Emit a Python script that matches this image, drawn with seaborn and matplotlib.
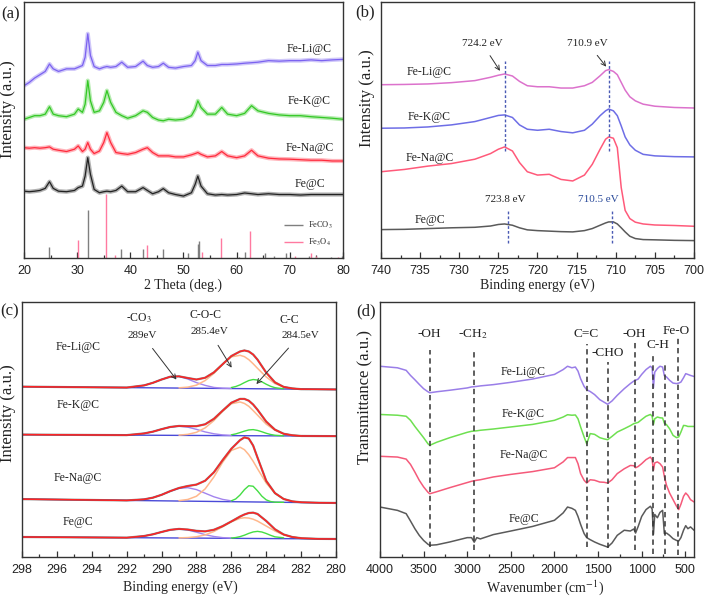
import matplotlib
matplotlib.use('Agg')
import matplotlib.pyplot as plt
import seaborn as sns

sns.set_theme(style='white')
plt.rcParams['font.family'] = ['Liberation Serif', 'DejaVu Serif']
plt.rcParams['mathtext.fontset'] = 'stix'
plt.rcParams['axes.edgecolor'] = '#333333'
plt.rcParams['axes.linewidth'] = 1.0

SAMPLES = ['Fe-Li@C', 'Fe-K@C', 'Fe-Na@C', 'Fe@C']

# ---------------- (a) XRD ----------------
XA = [20, 21, 22, 23, 24, 24.8, 25.5, 26.5, 28, 29.5, 30.2, 31.0, 31.5, 32.0, 32.5, 33.2, 34.2, 35.0,
      35.6, 36.3, 37.3, 38.4, 39.5, 41.0, 42.4, 43.2, 44.2, 45.3, 46.2, 47.2, 48.5, 50.0, 51.5, 52.2,
      52.7, 53.3, 54.5, 56.0, 57.2, 58.3, 60.0, 61.5, 62.8, 64.0, 66.0, 68.0, 70.0, 72.0, 74.0, 76.0,
      78.0, 80.0]
XRD_LI = [67.3, 68.6, 70.3, 71.6, 72.9, 75.8, 73.9, 72.9, 73.9, 73.9, 74.5, 75.2, 78.4, 87.6, 79.1, 74.8,
          73.9, 74.5, 74.8, 74.5, 74.8, 76.5, 74.5, 74.8, 76.9, 75.2, 74.5, 74.8, 76.1, 74.5, 74.2, 74.8,
          75.2, 77.1, 80.4, 77.1, 75.2, 75.2, 75.6, 75.6, 75.8, 76.1, 76.3, 76.5, 77.1, 76.9, 77.1, 77.1,
          77.4, 77.1, 77.4, 77.6]
XRD_K = [54.2, 54.9, 55.6, 55.6, 56.2, 59.1, 56.2, 55.6, 55.2, 56.2, 58.2, 56.9, 60.1, 69.3, 61.4, 56.9,
         57.5, 60.8, 65.4, 60.8, 56.9, 55.6, 54.6, 55.6, 57.5, 56.9, 54.9, 53.9, 53.6, 54.2, 53.9, 54.2,
         55.6, 58.2, 61.4, 58.8, 56.2, 56.2, 58.8, 56.2, 55.6, 56.5, 59.5, 57.5, 56.5, 55.9, 55.6, 55.6,
         55.2, 54.9, 54.6, 54.2]
XRD_NA = [43.1, 42.9, 43.1, 42.9, 43.1, 43.4, 42.5, 42.1, 41.6, 42.5, 43.8, 41.6, 42.5, 45.1, 42.5, 40.8,
          41.8, 45.1, 49.0, 45.1, 41.2, 40.8, 40.5, 41.2, 42.5, 43.1, 41.2, 39.9, 39.9, 39.9, 39.5, 39.5,
          40.3, 40.8, 41.2, 40.5, 39.5, 39.9, 41.6, 39.9, 39.2, 39.9, 42.1, 39.9, 39.0, 38.7, 38.6, 38.4,
          38.2, 38.2, 37.9, 37.9]
XRD_FE = [26.1, 25.9, 26.1, 26.4, 27.2, 29.8, 27.2, 26.1, 25.9, 26.4, 27.5, 28.1, 32.0, 39.2, 32.7, 26.8,
          25.5, 25.9, 26.1, 25.9, 26.4, 28.1, 25.9, 25.9, 27.5, 26.4, 25.1, 25.9, 27.1, 25.5, 24.8, 24.2,
          25.5, 28.8, 32.0, 28.1, 25.1, 24.6, 24.8, 24.6, 24.8, 25.4, 25.1, 24.8, 25.1, 24.8, 24.8, 24.6,
          24.8, 24.8, 24.8, 24.8]
FECO3_POS = [24.8, 32.0, 38.3, 42.3, 46.2, 50.9, 52.7, 52.9, 60.4, 61.5, 65.4, 67.0, 69.3, 73.6, 77.8, 79.9]
FECO3_H = [4.3, 18.6, 3.5, 3.5, 3.5, 2.0, 5.5, 6.5, 0.5, 2.4, 2.0, 0.9, 2.0, 0.7, 0.4, 0.8]
FE3O4_POS = [30.1, 35.5, 37.1, 43.1, 53.4, 57.0, 62.6, 71.0, 74.0, 75.0, 79.0]
FE3O4_H = [7.2, 25.0, 1.3, 5.2, 2.4, 7.8, 10.7, 0.6, 2.0, 0.7, 0.4]
XRD_LABEL_Y = [81.7, 61.4, 43.1, 28.8]

# ---------------- (b) Fe 2p XPS ----------------
XB = [740, 737, 734, 731, 728, 726, 725, 724.2, 723.2, 722.3, 721.3, 720, 718.5, 717, 715.5, 714, 713,
      712, 711.3, 710.9, 710.3, 709.8, 709.3, 708.8, 708.2, 707.5, 706.5, 705, 702.5, 700]
FE2P_LI = [67.7, 67.8, 68.0, 68.5, 69.3, 70.6, 71.4, 71.9, 71.1, 69.0, 67.3, 66.9, 66.9, 66.4, 66.4, 67.3,
           68.6, 71.2, 73.2, 73.6, 72.9, 71.6, 68.6, 65.6, 63.0, 61.4, 60.1, 59.3, 58.8, 58.6]
FE2P_K = [50.7, 50.8, 51.2, 52.0, 53.3, 54.9, 55.7, 55.9, 54.9, 52.0, 50.3, 49.9, 50.3, 49.4, 48.9, 49.9,
          52.3, 55.6, 57.5, 58.2, 57.5, 55.6, 51.6, 47.3, 44.2, 42.1, 40.5, 39.9, 39.6, 39.5]
FE2P_NA = [33.7, 34.6, 35.9, 36.9, 38.6, 40.8, 42.5, 43.4, 41.8, 37.3, 33.7, 32.4, 32.7, 30.7, 30.1, 32.4,
           36.6, 42.5, 46.4, 47.3, 46.8, 43.1, 27.5, 18.6, 15.4, 14.0, 13.3, 12.9, 12.7, 12.4]
FE2P_FE = [11.1, 11.2, 11.5, 11.8, 12.0, 12.5, 13.1, 13.3, 12.8, 11.8, 11.0, 10.7, 10.5, 10.3, 10.2, 10.7,
           11.5, 12.8, 13.7, 14.1, 14.1, 13.3, 11.8, 10.2, 8.5, 7.6, 7.2, 7.1, 6.9, 6.8]
FE2P_LABEL_Y = [72.5, 54.9, 39.2, 15.0]

# ---------------- (c) C 1s XPS ----------------
XC = [298, 294, 292, 291, 290.5, 290, 289.5, 289, 288.5, 288, 287.5, 287, 286.5, 286, 285.5, 285.25,
      285, 284.75, 284.5, 284, 283.5, 283, 282.5, 282, 281, 280]
C1S_ENV = {
    'Fe-Li@C': [66.8, 66.55, 66.45, 67.3, 68.3, 69.6, 70.7, 70.85, 70.2, 69.6, 70.3, 72.4, 75.6, 78.8, 80.6,
                81.0, 80.6, 79.4, 77.4, 72.3, 68.5, 66.7, 66.1, 65.82, 65.76, 65.7],
    'Fe-K@C': [48.0, 47.86, 47.8, 48.46, 49.15, 50.13, 51.0, 51.4, 51.3, 51.3, 52.05, 54.2, 57.4, 60.5, 62.0,
               62.0, 61.3, 59.8, 57.75, 53.1, 49.95, 48.33, 47.73, 47.47, 47.43, 47.4],
    'Fe-Na@C': [22.7, 22.37, 22.2, 22.61, 23.27, 24.39, 25.84, 27.07, 27.84, 28.4, 29.92, 33.22, 38.0, 42.45,
                45.83, 46.9, 46.46, 43.7, 39.0, 29.87, 25.06, 22.75, 21.81, 21.47, 21.28, 21.2],
    'Fe@C': [7.85, 7.68, 7.59, 8.23, 8.9, 9.82, 10.66, 11.02, 10.78, 10.27, 10.06, 10.68, 12.11, 13.95, 15.88,
             16.68, 17.26, 17.4, 16.89, 14.13, 10.89, 8.83, 7.83, 7.39, 7.11, 7.07],
}
X_CO3 = [291.5, 291, 290.5, 290, 289.5, 289, 288.5, 288, 287.5, 287, 286.5, 286]
C1S_CO3 = {
    'Fe-Li@C': [66.8, 67.3, 68.3, 69.6, 70.7, 70.8, 69.8, 68.4, 67.3, 66.5, 66.2, 66.1],
    'Fe-K@C': [48.05, 48.46, 49.15, 50.13, 50.96, 51.3, 50.93, 50.06, 49.05, 48.33, 47.88, 47.68],
    'Fe-Na@C': [22.32, 22.61, 23.27, 24.39, 25.79, 26.91, 27.19, 26.44, 25.02, 23.62, 22.6, 22.02],
    'Fe@C': [7.83, 8.23, 8.9, 9.82, 10.64, 10.96, 10.6, 9.74, 8.77, 8.05, 7.61, 7.41],
}
X_COC = [289, 288.5, 288, 287.5, 287, 286.5, 286, 285.5, 285.25, 285, 284.75, 284.5, 284, 283.5, 283, 282.5, 282]
C1S_COC = {
    'Fe-Li@C': [66.35, 66.6, 67.4, 69.2, 72.0, 75.5, 78.5, 79.1, 78.57, 77.4, 75.78, 74.0, 70.6, 68.0, 66.7,
                66.1, 65.85],
    'Fe-K@C': [47.8, 48.1, 48.9, 50.65, 53.5, 57.1, 60.1, 60.8, 60.22, 59.1, 57.43, 55.65, 52.1, 49.7, 48.3,
               47.73, 47.5],
    'Fe-Na@C': [22.11, 22.56, 23.83, 26.72, 31.38, 37.14, 41.8, 43.06, 42.09, 40.12, 37.55, 34.62, 28.99,
                24.99, 22.75, 21.81, 21.47],
    'Fe@C': [7.51, 7.62, 7.95, 8.68, 10.0, 11.85, 13.82, 15.16, 15.4, 15.28, 14.83, 14.09, 12.15, 10.19, 8.71,
             7.83, 7.39],
}
X_CC = [286, 285.75, 285.5, 285.25, 285, 284.75, 284.5, 284.25, 284, 283.75, 283.5, 283]
C1S_CC = {
    'Fe-Li@C': [66.45, 66.85, 67.5, 68.4, 69.2, 69.6, 69.4, 68.7, 67.75, 66.95, 66.4, 65.96],
    'Fe-K@C': [47.92, 48.28, 48.8, 49.37, 49.83, 49.96, 49.65, 49.12, 48.52, 48.05, 47.75, 47.53],
    'Fe-Na@C': [22.03, 22.77, 24.33, 26.42, 27.96, 27.75, 25.95, 23.86, 22.41, 21.76, 21.49, 21.45],
    'Fe@C': [7.45, 7.63, 8.0, 8.56, 9.27, 9.83, 10.06, 9.81, 9.22, 8.51, 7.92, 7.53],
}
X_BASE = [298, 280]
C1S_BASE = {'Fe-Li@C': [66.8, 65.7], 'Fe-K@C': [48.0, 47.4], 'Fe-Na@C': [22.7, 21.2], 'Fe@C': [7.85, 7.07]}
C1S_LABEL_Y = [82.5, 59.6, 30.8, 13.7]

# ---------------- (d) FTIR ----------------
XD = [4000, 3800, 3700, 3650, 3600, 3550, 3500, 3450, 3430, 3350, 3200, 3000, 2950, 2920, 2890, 2850, 2700,
      2500, 2250, 2000, 1900, 1850, 1800, 1760, 1730, 1700, 1660, 1630, 1590, 1540, 1480, 1430, 1390, 1340,
      1280, 1200, 1130, 1090, 1070, 1040, 1000, 950, 900, 880, 865, 850, 820, 790, 760, 740, 715, 680, 640,
      600, 575, 550, 520, 495, 470, 440, 400]
IR_LI = [74.8, 74.2, 73.2, 71.2, 69.5, 67.7, 66.0, 64.8, 64.4, 64.8, 65.4, 66.3, 66.7, 66.8, 66.9, 67.1,
         67.6, 68.5, 69.8, 71.6, 73.5, 74.8, 74.2, 74.5, 72.9, 69.9, 66.9, 65.6, 64.9, 63.7, 61.7, 60.7, 59.9,
         61.2, 63.4, 66.0, 68.0, 69.0, 69.3, 69.8, 71.6, 73.5, 74.8, 74.2, 66.4, 72.5, 73.9, 74.8, 74.5, 71.1,
         70.6, 69.3, 68.2, 68.0, 68.2, 68.6, 70.3, 71.9, 71.6, 71.2, 70.8]
IR_K = [55.9, 55.6, 55.2, 53.6, 51.2, 49.0, 46.8, 44.4, 43.8, 45.0, 46.8, 48.9, 49.3, 49.4, 49.5, 49.7,
        50.2, 51.0, 52.0, 53.6, 54.9, 55.8, 55.6, 55.7, 54.2, 51.0, 47.1, 44.4, 48.4, 48.1, 46.8, 46.3, 46.0,
        47.3, 49.0, 50.3, 51.5, 52.3, 52.5, 52.8, 53.9, 55.2, 55.9, 55.2, 52.0, 54.2, 54.9, 54.6, 54.5, 52.5,
        51.9, 50.3, 47.7, 46.8, 47.1, 49.0, 51.6, 51.5, 51.2, 51.2, 51.2]
IR_NA = [39.5, 39.2, 38.4, 36.3, 33.3, 30.1, 27.5, 25.4, 24.8, 25.6, 27.2, 29.2, 29.7, 29.9, 30.1, 30.3,
         31.4, 32.4, 33.5, 35.0, 37.3, 39.0, 39.0, 39.0, 36.6, 32.7, 30.1, 29.0, 30.3, 30.1, 29.4, 29.3, 29.0,
         30.3, 32.7, 34.6, 35.9, 35.8, 35.0, 35.5, 36.6, 38.2, 39.2, 38.2, 34.0, 36.9, 37.3, 36.6, 35.3, 31.6,
         28.1, 25.1, 22.5, 19.9, 18.6, 20.7, 23.8, 25.1, 24.2, 22.5, 21.6]
IR_FE = [19.6, 18.3, 17.0, 14.1, 11.1, 8.5, 6.5, 5.0, 4.6, 4.8, 5.9, 7.6, 7.6, 5.8, 7.6, 7.1, 8.8, 10.2,
         12.0, 14.4, 17.3, 19.6, 19.1, 18.3, 15.9, 12.8, 9.2, 7.6, 6.8, 5.9, 5.0, 4.4, 3.9, 5.5, 8.5, 10.5,
         10.2, 11.0, 9.4, 12.0, 15.9, 18.6, 19.9, 18.8, 8.9, 16.7, 15.4, 17.5, 18.3, 9.2, 9.4, 8.5, 7.2, 6.5,
         6.3, 7.6, 10.5, 12.3, 11.1, 11.8, 10.5]
IR_LABEL_Y = [72.5, 56.2, 39.9, 15.0]
IR_BANDS = ['-OH', '-CH$_2$', 'C=C', '-CHO', '-OH', 'C-H', '', 'Fe-O']
IR_BAND_POS = [3430, 2920, 1630, 1390, 1075, 865, 735, 580]
IR_BAND_TOP = [81.0, 80.4, 83.7, 76.5, 85.0, 79.7, 76.5, 86.3]
IR_BAND_BOT = [3.9, 2.6, 3.9, 3.7, 2.9, 1.0, 1.3, 0.7]

TXT = '#222222'


def style_axis(ax, xlim, major, minor):
    ax.set_xlim(*xlim)
    ax.set_ylim(0, 100)
    ax.set_yticks([])
    ax.set_xticks(major)
    ax.set_xticks(minor, minor=True)
    ax.tick_params(axis='x', which='both', direction='in', bottom=True, top=False,
                   color='#333333', width=0.9, pad=5, labelsize=9, labelcolor=TXT)
    ax.tick_params(axis='x', which='major', length=4)
    ax.tick_params(axis='x', which='minor', length=2.5)
    for lbl in ax.get_xticklabels():
        lbl.set_family('Liberation Sans')
    ax.grid(False)
    for s in ax.spines.values():
        s.set_color('#333333')
        s.set_linewidth(1.0)


fig = plt.figure(figsize=(7.05, 5.96), dpi=100)
axA = fig.add_axes([0.0340, 0.5671, 0.4525, 0.4295])
axB = fig.add_axes([0.5404, 0.5671, 0.4440, 0.4295])
axC = fig.add_axes([0.0312, 0.0654, 0.4454, 0.4279])
axD = fig.add_axes([0.5390, 0.0654, 0.4454, 0.4279])

# ---- (a)
xrd_cols = ['#7b62f0', '#33c824', '#ff2a3c', '#222222']
for ys, c in zip([XRD_LI, XRD_K, XRD_NA, XRD_FE], xrd_cols):
    sns.lineplot(x=XA, y=ys, ax=axA, color=c, lw=3.0, alpha=0.35, estimator=None, sort=False)
    sns.lineplot(x=XA, y=ys, ax=axA, color=c, lw=0.9, estimator=None, sort=False)
axA.vlines(FECO3_POS, 0, FECO3_H, color='#7f7f7f', lw=1.0, label='FeCO$_3$')
axA.vlines(FE3O4_POS, 0, FE3O4_H, color='#ff7aa0', lw=1.0, label='Fe$_3$O$_4$')
axA.legend(loc='lower right', bbox_to_anchor=(0.985, 0.015), frameon=False, fontsize=6,
           handlelength=2.3, labelspacing=0.7, borderpad=0.2, handletextpad=0.6)
for name, y in zip(SAMPLES, XRD_LABEL_Y):
    axA.text(73.7, y, name, ha='center', va='center', fontsize=8.5, color=TXT)
style_axis(axA, (20, 80), [20, 30, 40, 50, 60, 70, 80], [25, 35, 45, 55, 65, 75])
axA.set_xlabel('2 Theta (deg.)', fontsize=10, color=TXT)
axA.xaxis.set_label_coords(0.5, -0.108)
axA.xaxis.label.set_va('center')
axA.set_ylabel('Intensity (a.u.)', fontsize=12, color=TXT)
axA.yaxis.set_label_coords(-0.05, 0.58)
axA.yaxis.label.set_va('center')

# ---- (b)
b_cols = ['#dc72cc', '#6e6ee6', '#ff5a7a', '#5a5a5a']
for ys, c in zip([FE2P_LI, FE2P_K, FE2P_NA, FE2P_FE], b_cols):
    sns.lineplot(x=XB, y=ys, ax=axB, color=c, lw=1.1, estimator=None, sort=False)
axB.vlines([724.2, 710.9], 41.8, 77.1, color='#4a5ab4', lw=1.0, linestyles=(0, (2, 1.5)))
axB.vlines([723.8, 710.5], 5.9, 19.0, color='#4a5ab4', lw=1.0, linestyles=(0, (2, 1.5)))
axB.annotate('724.2 eV', xy=(724.6, 72.2), xytext=(727.1, 83.9), ha='center', va='center', fontsize=8,
             color=TXT, arrowprops=dict(arrowstyle='->', color='#333333', lw=0.7, shrinkA=4))
axB.annotate('710.9 eV', xy=(711.0, 73.9), xytext=(713.6, 83.9), ha='center', va='center', fontsize=8,
             color=TXT, arrowprops=dict(arrowstyle='->', color='#333333', lw=0.7, shrinkA=4))
axB.text(724.1, 22.9, '723.8 eV', ha='center', va='center', fontsize=8, color=TXT)
axB.text(712.25, 22.9, '710.5 eV', ha='center', va='center', fontsize=8, color='#2a4a9a')
for name, y in zip(SAMPLES, FE2P_LABEL_Y):
    axB.text(733.8, y, name, ha='center', va='center', fontsize=8.5, color=TXT)
style_axis(axB, (740, 700), list(range(740, 699, -5)), [737.5, 732.5, 727.5, 722.5, 717.5, 712.5, 707.5, 702.5])
axB.set_xlabel('Binding energy (eV)', fontsize=10, color=TXT)
axB.xaxis.set_label_coords(0.5, -0.108)
axB.xaxis.label.set_va('center')
axB.set_ylabel('Intensity (a.u.)', fontsize=12, color=TXT)
axB.yaxis.set_label_coords(-0.045, 0.625)
axB.yaxis.label.set_va('center')

# ---- (c)
for name in SAMPLES:
    sns.lineplot(x=X_BASE, y=C1S_BASE[name], ax=axC, color='#4a4ad8', lw=1.0, estimator=None, sort=False)
    sns.lineplot(x=X_CO3, y=C1S_CO3[name], ax=axC, color='#a384ee', lw=1.0, estimator=None, sort=False)
    sns.lineplot(x=X_COC, y=C1S_COC[name], ax=axC, color='#ffb88c', lw=1.1, estimator=None, sort=False)
    sns.lineplot(x=X_CC, y=C1S_CC[name], ax=axC, color='#44dd44', lw=1.0, estimator=None, sort=False)
    sns.lineplot(x=XC, y=C1S_ENV[name], ax=axC, color='#555555', lw=1.6, alpha=0.7, estimator=None, sort=False)
    sns.lineplot(x=XC, y=C1S_ENV[name], ax=axC, color='#ff2424', lw=1.1, estimator=None, sort=False)
for name, y in zip(SAMPLES, C1S_LABEL_Y):
    axC.text(294.8, y, name, ha='center', va='center', fontsize=8.5, color=TXT)
axC.text(291.3, 93.6, '-CO$_3$', ha='center', va='center', fontsize=8.5, color=TXT)
axC.text(287.47, 94.9, 'C-O-C', ha='center', va='center', fontsize=8.5, color=TXT)
axC.text(282.67, 92.9, 'C-C', ha='center', va='center', fontsize=8.5, color=TXT)
axC.annotate('289eV', xy=(289.05, 68.7), xytext=(291.1, 87.0), ha='center', va='center', fontsize=8,
             color=TXT, arrowprops=dict(arrowstyle='->', color='#333333', lw=0.7, shrinkA=5))
axC.annotate('285.4eV', xy=(285.9, 73.3), xytext=(287.24, 88.4), ha='center', va='center', fontsize=8,
             color=TXT, arrowprops=dict(arrowstyle='->', color='#333333', lw=0.7, shrinkA=5))
axC.annotate('284.5eV', xy=(284.67, 67.0), xytext=(282.06, 87.0), ha='center', va='center', fontsize=8,
             color=TXT, arrowprops=dict(arrowstyle='->', color='#333333', lw=0.7, shrinkA=5))
style_axis(axC, (298, 280), list(range(298, 279, -2)), list(range(297, 280, -2)))
axC.set_xlabel('Binding energy (eV)', fontsize=10, color=TXT)
axC.xaxis.set_label_coords(0.503, -0.118)
axC.xaxis.label.set_va('center')
axC.set_ylabel('Intensity (a.u.)', fontsize=12, color=TXT)
axC.yaxis.set_label_coords(-0.045, 0.565)
axC.yaxis.label.set_va('center')

# ---- (d)
d_cols = ['#9a7ee8', '#6ee050', '#f55a7a', '#5a5a5a']
for ys, c in zip([IR_LI, IR_K, IR_NA, IR_FE], d_cols):
    sns.lineplot(x=XD, y=ys, ax=axD, color=c, lw=1.1, estimator=None, sort=False)
axD.vlines(IR_BAND_POS, IR_BAND_BOT, IR_BAND_TOP, color='#333333', lw=1.1, linestyles=(0, (3.5, 2.5)))
band_txt_pos = [(3438, 87.6), (2938, 87.6), (1639, 87.6), (1390, 80.0), (1084, 87.6), (809, 83.0),
                (0, 0), (599, 88.6)]
for t, (bx, by) in zip(IR_BANDS, band_txt_pos):
    if t:
        axD.text(bx, by, t, ha='center', va='center', fontsize=9.5, color=TXT)
for name, y in zip(SAMPLES, IR_LABEL_Y):
    axD.text(2355, y, name, ha='center', va='center', fontsize=8.5, color=TXT)
style_axis(axD, (4000, 400), [4000, 3500, 3000, 2500, 2000, 1500, 1000, 500],
           [3750, 3250, 2750, 2250, 1750, 1250, 750])
axD.set_xlabel('Wavenumber (cm$^{-1}$)', fontsize=10, color=TXT)
axD.xaxis.set_label_coords(0.525, -0.118)
axD.xaxis.label.set_va('center')
axD.set_ylabel('Transmittance (a.u.)', fontsize=12, color=TXT)
axD.yaxis.set_label_coords(-0.045, 0.627)
axD.yaxis.label.set_va('center')

for lab, px, py in [('(a)', 11, 14), ('(b)', 365, 12.5), ('(c)', 10, 311), ('(d)', 366, 311)]:
    fig.text(px / 705, 1 - py / 596, lab, ha='center', va='center', fontsize=12, color=TXT)

fig.savefig('out.png', dpi=100)
